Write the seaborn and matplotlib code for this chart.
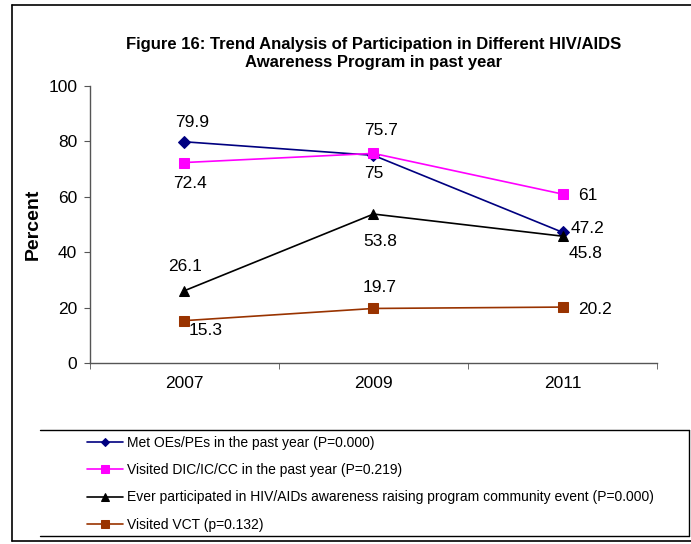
import matplotlib
matplotlib.use("Agg")
import matplotlib.pyplot as plt
import seaborn as sns
import pandas as pd
from matplotlib.lines import Line2D
from matplotlib.ticker import FixedLocator

years = ["2007", "2009", "2011"]
met_oes = [79.9, 75, 47.2]
visited_dic = [72.4, 75.7, 61]
ever_participated = [26.1, 53.8, 45.8]
visited_vct = [15.3, 19.7, 20.2]

series_names = [
    "Met OEs/PEs in the past year (P=0.000)",
    "Visited DIC/IC/CC in the past year (P=0.219)",
    "Ever participated in HIV/AIDs awareness raising program community event (P=0.000)",
    "Visited VCT (p=0.132)",
]
series_values = [met_oes, visited_dic, ever_participated, visited_vct]
colors = ["#000080", "#FF00FF", "#000000", "#993300"]
markers = ["D", "s", "^", "s"]
msizes = [6, 7.5, 7, 7.5]
# label offsets in pixels (dx, dy) per series per year
offsets = [
    [(8, 19), (0, -18), (25, 4)],
    [(6, -21), (8, 23), (25, -1)],
    [(1, 24), (7, -27), (23, -17)],
    [(21, -10), (6, 21), (32, -2)],
]

rows = []
for name, vals in zip(series_names, series_values):
    for y, v in zip(years, vals):
        rows.append({"Year": y, "Percent": v, "Series": name})
df = pd.DataFrame(rows)

sns.set_style("white")
plt.rcParams["font.family"] = ["Liberation Sans", "DejaVu Sans"]
plt.rcParams["text.color"] = "black"
plt.rcParams["xtick.color"] = "black"
plt.rcParams["ytick.color"] = "black"
plt.rcParams["axes.labelcolor"] = "black"

fig = plt.figure(figsize=(6.91, 5.44), dpi=100)
ax = fig.add_axes([0.130, 0.3327, 0.821, 0.509])

for i, name in enumerate(series_names):
    sub = df[df["Series"] == name]
    sns.lineplot(data=sub, x="Year", y="Percent", ax=ax, color=colors[i],
                 marker=markers[i], markersize=msizes[i], markeredgecolor=colors[i],
                 linewidth=1.2, label=name, legend=False, sort=False)
    for j, (y, v) in enumerate(zip(years, series_values[i])):
        dx, dy = offsets[i][j]
        ax.annotate(f"{v:g}", xy=(j, v), xytext=(dx, dy), textcoords="offset pixels",
                    ha="center", va="center", fontsize=12.5, color="black")

ax.set_xlim(-0.5, 2.5)
ax.set_ylim(0, 100)
ax.set_yticks([0, 20, 40, 60, 80, 100])
ax.set_xticks([0, 1, 2])
ax.set_xticklabels(years)
ax.xaxis.set_minor_locator(FixedLocator([-0.5, 0.5, 1.5, 2.5]))
ax.tick_params(axis="x", which="major", length=0, labelsize=12.5, pad=9.5)
ax.tick_params(axis="x", which="minor", length=4, direction="out", color="#555555", bottom=True)
ax.tick_params(axis="y", length=4, direction="out", color="#555555", labelsize=12.5, left=True, pad=5)
for s in ["top", "right"]:
    ax.spines[s].set_visible(False)
for s in ["left", "bottom"]:
    ax.spines[s].set_color("#555555")
    ax.spines[s].set_linewidth(1)
ax.set_xlabel("")
ax.set_ylabel("Percent", fontsize=14, fontweight="bold", labelpad=5)
ax.set_title("Figure 16: Trend Analysis of Participation in Different HIV/AIDS\nAwareness Program in past year",
             fontsize=12, fontweight="bold", pad=14, linespacing=1.2)

handles, labels = ax.get_legend_handles_labels()
leg = fig.legend(handles, labels, loc="upper left",
                 bbox_to_anchor=(87 / 691, 1 - 436 / 544),
                 frameon=False, fontsize=10, labelspacing=0.95, markerscale=0.75,
                 handlelength=2.6, handletextpad=0.3, borderaxespad=0, borderpad=0)

W, H = 691.0, 544.0
def fline(xs, ys, lw):
    fig.add_artist(Line2D([x / W for x in xs], [1 - y / H for y in ys],
                          transform=fig.transFigure, color="black", linewidth=lw))

# outer border
fline([12, 12], [5, 541], 1.2)
fline([12, 691], [5, 5], 1.2)
fline([12, 691], [541, 541], 1.2)
# legend box
fline([40, 689], [430, 430], 1.0)
fline([689, 689], [430, 536], 1.0)
fline([40, 689], [536, 536], 1.0)

fig.savefig("out.png", dpi=100)
